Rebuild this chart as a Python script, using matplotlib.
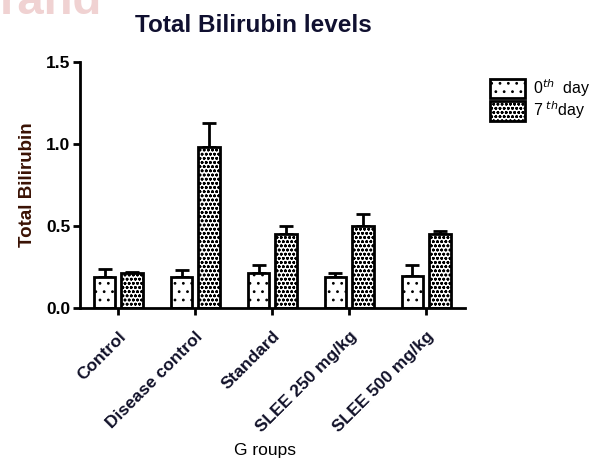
import numpy as np
import matplotlib
matplotlib.use("Agg")
import matplotlib.pyplot as plt

plt.rcParams['font.family'] = ['Liberation Sans', 'DejaVu Sans']
plt.rcParams['hatch.linewidth'] = 0.8

groups = ["Control", "Disease control", "Standard", "SLEE 250 mg/kg", "SLEE 500 mg/kg"]
day0 = [0.19, 0.19, 0.21, 0.19, 0.195]
day0_err = [0.05, 0.04, 0.05, 0.02, 0.065]
day7 = [0.21, 0.98, 0.45, 0.50, 0.45]
day7_err = [0.01, 0.15, 0.05, 0.07, 0.02]

fig = plt.figure(figsize=(6.1, 4.63), dpi=100)
ax = fig.add_axes([0.131, 0.335, 0.631, 0.531])

x = np.arange(len(groups))
w = 0.28
off = 0.18
b0 = ax.bar(x - off, day0, w, color="white", edgecolor="black", linewidth=2,
            hatch="..", label=r"0$^{th}$  day", zorder=2)
b7 = ax.bar(x + off, day7, w, color="white", edgecolor="black", linewidth=2,
            hatch="oooo", label=r"7$^{\ th}$day", zorder=2)
ax.errorbar(x - off, day0, yerr=[np.zeros(len(x)), day0_err], fmt="none",
            ecolor="black", elinewidth=2, capsize=5, capthick=2, zorder=1)
ax.errorbar(x + off, day7, yerr=[np.zeros(len(x)), day7_err], fmt="none",
            ecolor="black", elinewidth=2, capsize=5, capthick=2, zorder=1)

ax.set_xlim(-0.5, 4.5)
ax.set_ylim(0, 1.5)
ax.set_yticks([0.0, 0.5, 1.0, 1.5])
ax.set_yticklabels(["0.0", "0.5", "1.0", "1.5"], fontsize=12.5, fontweight="bold")
ax.set_xticks(x)
ax.set_xticklabels(groups, rotation=45, ha="right", rotation_mode="anchor",
                   fontsize=12.5, fontweight="bold", color="#101028")
ax.tick_params(axis="both", width=2, length=5, direction="out")
ax.tick_params(axis="y", pad=2)
ax.tick_params(axis="x", pad=10)
for s in ["top", "right"]:
    ax.spines[s].set_visible(False)
for s in ["left", "bottom"]:
    ax.spines[s].set_linewidth(2)

ax.set_ylabel("Total Bilirubin", fontsize=13.5, fontweight="bold", color="#3a1204", labelpad=7)
fig.text(0.435, 0.027, "G roups", fontsize=12.5, ha="center", va="center")
fig.text(0.415, 0.945, "Total Bilirubin levels", fontsize=17.5, fontweight="bold",
         ha="center", va="center", color="#101030")

# faint watermark along the top edge
fig.text(0.0, 0.995, "rand", fontsize=34, color="#f0d2d2", ha="left", va="center", fontweight="bold")

leg = fig.legend(handles=[b0, b7], loc="upper left", bbox_to_anchor=(0.78, 0.865),
                 frameon=False, fontsize=11.5, handlelength=2.2, handleheight=1.5,
                 handletextpad=0.5, labelspacing=0.05)

fig.savefig("out.png", dpi=100)
